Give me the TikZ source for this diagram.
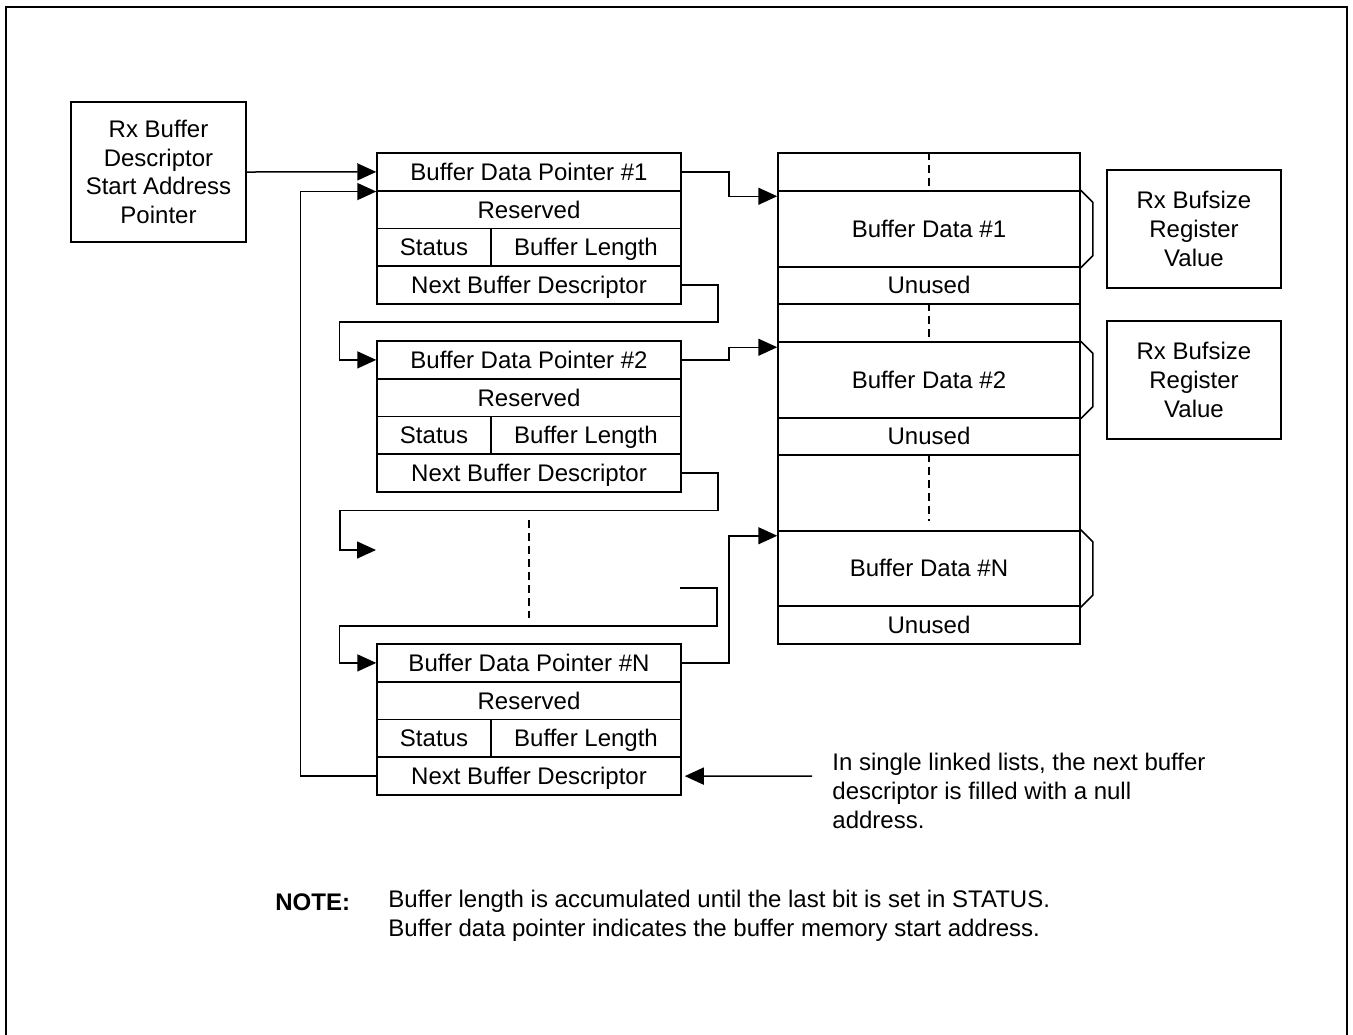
\documentclass[tikz,border=0pt]{standalone}
\usepackage{fontspec}
\setmainfont{Liberation Sans}
\usetikzlibrary{arrows.meta,calc}
\tikzset{
  % white box with a thin black outline, width given as argument
  regbox/.style  = {rectangle, draw, line width=0.75pt, inner sep=0pt, align=center,
                    font=\fontsize{12}{14.3}\selectfont, minimum width=#1},
  % one-line cell of a descriptor or of the buffer memory
  cell/.style    = {regbox=#1, minimum height=18.9pt, text height=8.7pt, text depth=0.3pt},
  cell/.default  = 152pt,
  tall/.style    = {minimum height=38pt},
  txt/.style     = {inner sep=0pt, align=left, font=\fontsize{12}{14.3}\selectfont},
  arr/.style     = {-{Triangle[length=9.5pt,width=8.5pt]}, line width=0.75pt},
  sizemark/.style = {line width=0.75pt},
  vdash/.style   = {line width=0.75pt, dash pattern=on 4pt off 2.5pt},
  outline/.style = {line width=1.3pt},
}

\begin{document}
\begin{tikzpicture}[x=0.5pt,y=-0.5pt]
\useasboundingbox (0,0) rectangle (1353,1034);
\draw[outline] (6,1040) -- (6,7) -- (1347,7) -- (1347,1040);

% start pointer
\node[regbox=87.5pt, minimum height=70pt] (st) at (158.5,172) {Rx Buffer\\Descriptor\\Start Address\\Pointer};

% descriptors
\foreach \i/\t/\n in {1/153/1, 2/341/2, n/644/N} {
  \node[cell]      (d\i-ptr) at (529,{\t+18.9}) {Buffer Data Pointer \#\n};
  \node[cell]      (d\i-res) at (529,{\t+56.6}) {Reserved};
  \node[cell=57pt] (d\i-st)  at (434,{\t+94.4}) {Status};
  \node[cell=95pt] (d\i-len) at (586,{\t+94.4}) {Buffer Length};
  \node[cell]      (d\i-nxt) at (529,{\t+132.1}) {Next Buffer Descriptor};
}

% buffer memory
\node[cell=151pt]       (m1) at (929,172)   {};
\node[cell=151pt, tall] (b1) at (929,229)   {Buffer Data \#1};
\node[cell=151pt]       (u1) at (929,285.5) {Unused};
\node[cell=151pt]       (m2) at (929,323)   {};
\node[cell=151pt, tall] (b2) at (929,380)   {Buffer Data \#2};
\node[cell=151pt]       (u2) at (929,436.5) {Unused};
\node[cell=151pt, tall] (m3) at (929,493)   {};
\node[cell=151pt, tall] (bn) at (929,568.5) {Buffer Data \#N};
\node[cell=151pt]       (un) at (929,625)   {Unused};
\draw[vdash] (m1.north) -- (m1.south);
\draw[vdash] (m2.north) -- (m2.south);
\draw[vdash] (m3.north) -- ($(m3.south)+(0,-11)$);
\foreach \b in {b1,b2,bn} {\draw[sizemark] (\b.north east) -- ++(12,12) -- ($(\b.south east)+(12,-12)$) -- (\b.south east);}

% bufsize registers
\node[regbox=87pt, minimum height=59pt] (r1) at (1194,229) {Rx Bufsize\\Register\\Value};
\node[regbox=87pt, minimum height=59pt] (r2) at (1194,380) {Rx Bufsize\\Register\\Value};

% descriptor chain
\coordinate (gapin)  at (376,550);
\coordinate (gapout) at (680,588);
\draw[arr] (st.east) -- (d1-ptr.west);
\draw[arr] (dn-nxt.west) -- ++(-76,0) |- (d1-ptr.south west);
\draw[arr] (d1-nxt.east) -- ++(36,0) -- ++(0,37) -| ($(d2-ptr.west)+(-37,0)$) -- (d2-ptr.west);
\draw[arr] (d2-nxt.east) -- ++(36,0) -- ++(0,37.5) -| ($(gapin)+(-36,0)$) -- (gapin);
\draw[arr] (gapout) -- ++(37,0) -- ++(0,38) -| ($(dn-ptr.west)+(-37,0)$) -- (dn-ptr.west);
\draw[vdash] (529,520) -- (529,618);
\foreach \a/\b in {d1/b1,d2/b2,dn/bn} {\draw[arr] (\a-ptr.east) -- ++(47,0) |- ($(\b.north west)+(0,6)$);}

% notes
\node[txt, anchor=west] (nullnote) at (832,791) {In single linked lists, the next buffer\\descriptor is filled with a null\\address.};
\coordinate (nullsrc) at (812,776);
\draw[arr, shorten >=1.5pt] (nullsrc) -- (dn-nxt.east);
\node[txt, anchor=west, font=\fontsize{12}{14.3}\selectfont\bfseries] (notehd) at (275,902) {NOTE:};
\node[txt, anchor=west] (notebody) at (388,916) {Buffer length is accumulated until the last bit is set in STATUS.\\Buffer data pointer indicates the buffer memory start address.};
\end{tikzpicture}
\end{document}
